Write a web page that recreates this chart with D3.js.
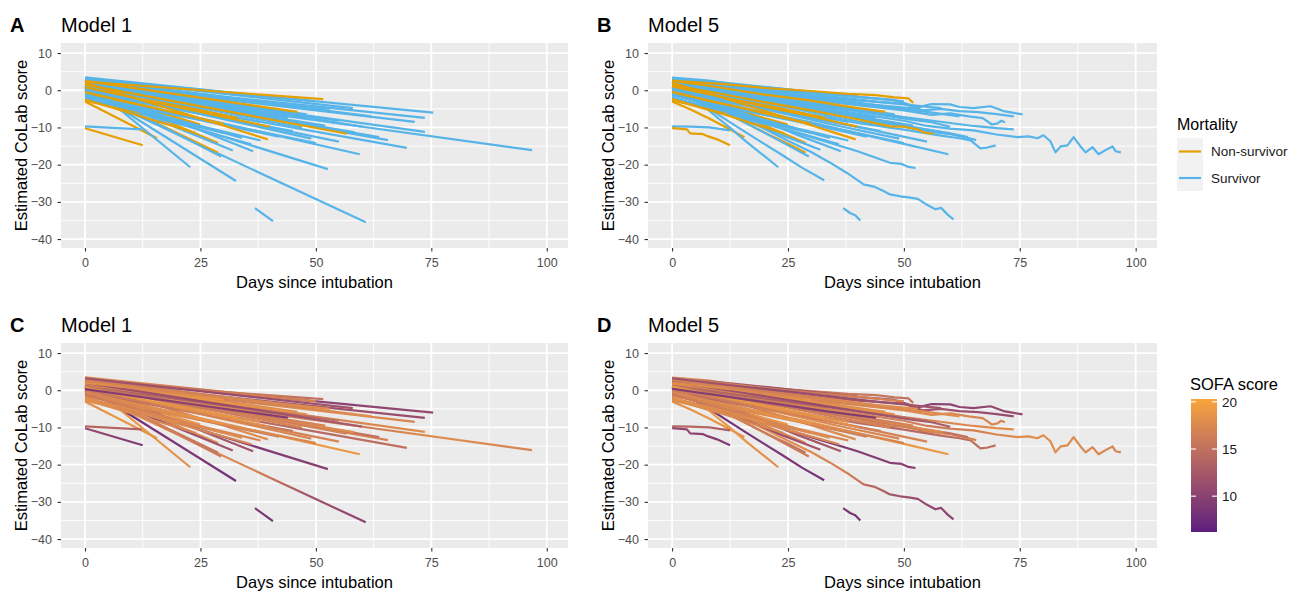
<!DOCTYPE html>
<html>
<head>
<meta charset="utf-8">
<script src="https://cdn.jsdelivr.net/npm/d3@7"></script>
<style>
  body { margin: 0; background: #fff; }
  svg { display: block; font-family: "Liberation Sans", Arial, sans-serif; }
</style>
</head>
<body>
<svg id="chart" width="1290" height="593"></svg>
<script>
// ---- data (one entry per patient, same order everywhere) ----
const mortality = [
  "Survivor", "Non-survivor", "Survivor", "Survivor", "Survivor", "Non-survivor", "Survivor",
  "Survivor", "Non-survivor", "Survivor", "Survivor", "Non-survivor", "Survivor", "Survivor",
  "Survivor", "Survivor", "Survivor", "Survivor", "Non-survivor", "Survivor", "Non-survivor",
  "Survivor", "Non-survivor", "Survivor", "Survivor", "Non-survivor", "Survivor", "Non-survivor",
  "Survivor", "Survivor", "Survivor", "Survivor", "Non-survivor", "Survivor", "Survivor",
  "Survivor", "Survivor", "Non-survivor", "Survivor", "Survivor", "Survivor", "Survivor",
  "Survivor", "Survivor", "Survivor", "Survivor", "Survivor", "Survivor", "Non-survivor",
  "Survivor", "Survivor", "Survivor", "Non-survivor", "Survivor", "Survivor", "Non-survivor",
  "Survivor", "Survivor", "Survivor", "Non-survivor", "Survivor"
];

// Model 1: straight fitted trajectories, [day, score] at first and last observation
const model1Start = [
  [0, 3.5], [0, 2.3], [0, 3.0], [0, 2.2], [0, 1.8], [0, 1.5], [0, 1.5],
  [0, 0.5], [0, -3.0], [0, 0.0], [0, -9.7], [0, -10.2], [0, 2.5], [0, 1.0],
  [0, -0.3], [36.8, -31.7], [0, -1.0], [0, -0.5], [0, 0.5], [0, 1.2], [0, 1.0],
  [0, 0.8], [0, 2.0], [0, 1.0], [0, 0.0], [0, 0.0], [0, 1.5], [0, 2.5],
  [0, 3.3], [0, 2.8], [0, 3.0], [0, 2.0], [0, -1.0], [0, 1.5], [0, 0.8],
  [0, 0.2], [0, -0.5], [0, 1.5], [0, -1.5], [0, -2.5], [0, -1.0], [0, 2.5],
  [0, -2.0], [0, 1.0], [0, 0.5], [0, 2.0], [0, -2.0], [0, 0.8], [0, -2.8],
  [0, -1.5], [0, 0.0], [0, -2.2], [0, -0.5], [0, 1.2], [0, 2.8], [0, 0.8],
  [0, -1.2], [0, 3.2], [0, 0.3], [0, -2.5], [0, 2.0]
];
const model1End = [
  [40, -1.7], [51.6, -2.4], [75.4, -6.0], [73.6, -7.4], [71.4, -8.5], [56.7, -11.7], [73.6, -11.2],
  [96.8, -16.1], [15.6, -12.9], [69.7, -15.5], [12.3, -10.5], [12.5, -14.8], [22.8, -20.7], [32.7, -24.4],
  [60.8, -35.5], [40.7, -35.2], [52.6, -21.2], [59.5, -17.2], [28.8, -16.8], [65.6, -13.4], [28.8, -14.2],
  [63.7, -12.6], [39.6, -13.2], [58.4, -11.3], [32, -16.2], [25, -9.2], [36.4, -16.4], [46, -5.8],
  [50, -3.0], [45, -4.2], [41, -3.5], [48, -6.5], [20, -6.5], [43, -7.0], [52, -9.5],
  [38, -8.5], [45, -11.0], [33, -7.5], [42, -12.5], [30, -11.5], [26, -10.0], [30, -2.5],
  [20, -8.5], [55, -8.2], [49, -13.0], [60, -9.8], [36, -14.5], [29.5, -17.8], [12, -6.0],
  [50, -14.2], [55, -13.8], [38, -13.5], [30, -9.0], [47, -10.0], [62, -7.0], [40, -9.8],
  [34, -12.8], [58, -4.8], [44, -7.4], [24, -11.5], [53, -5.0]
];

// Model 5: daily estimates, [day, score]
const model5Path = [
  [[0, 3.4], [8, 2.6], [15, 1.2], [22, 0.6], [30, -0.4], [35, -1.2], [40, -1.6]],
  [[0, 2.5], [10, 1.8], [20, 0.6], [30, -0.2], [38, -1.0], [44, -1.3], [48, -1.9], [51, -2.2], [52, -3.4]],
  [[0, 3.0], [10, 2.2], [20, 0.9], [30, -0.4], [40, -1.8], [48, -2.6], [53, -4.6], [56, -3.7], [60, -3.8], [62, -4.5], [65, -4.8], [68.7, -4.3], [71.5, -5.6], [75.6, -6.5]],
  [[0, 2.0], [10, 1.0], [20, 0.0], [30, -1.5], [40, -2.8], [50, -3.6], [54, -5.4], [58, -5.0], [62, -5.6], [66, -5.9], [70, -6.4], [73.7, -7.0]],
  [[0, 1.6], [10, 0.4], [20, -1.2], [30, -2.6], [40, -4.0], [50, -5.4], [56, -6.6], [60, -6.2], [64, -7.0], [67, -7.5], [69, -9.2], [70.2, -8.9], [71, -8.2], [71.8, -8.6]],
  [[0, 1.4], [10, -0.8], [20, -3.2], [30, -5.4], [40, -7.8], [47, -9.7], [50, -9.8], [52.9, -10.5], [54.5, -11.4], [56.4, -11.7]],
  [[0, 1.5], [10, -0.2], [20, -1.8], [30, -3.6], [40, -5.4], [50, -7.2], [55, -8.0], [60, -8.8], [65, -9.6], [70, -10.2], [73.7, -10.5]],
  [[0, 0.8], [10, -0.8], [20, -2.8], [30, -4.5], [40, -6.3], [50, -8.2], [55, -9.6], [60, -10.3], [65, -10.8], [70, -11.9], [74.5, -12.6], [76.9, -12.4], [78.8, -12.9], [80.1, -12.1], [81.6, -13.7], [82.7, -16.7], [83.8, -15.1], [85.3, -14.8], [86.6, -12.6], [88.1, -15.1], [89.2, -16.7], [90.7, -15.3], [92.0, -17.2], [93.5, -16.1], [95.0, -15.1], [95.7, -16.4], [96.8, -16.7]],
  [[0, -3.0], [4, -5.2], [8, -7.6], [12, -10.2], [15.6, -12.6]],
  [[0, 0.2], [10, -2.0], [20, -4.4], [30, -6.6], [40, -8.8], [50, -10.6], [58, -12.2], [62, -12.9], [64.4, -13.5], [66.5, -15.6], [68, -15.4], [69.8, -14.8]],
  [[0, -9.7], [4, -9.8], [8, -10.0], [12.5, -10.8]],
  [[0, -10.2], [3.2, -10.5], [3.9, -11.6], [6.7, -11.8], [7.8, -12.4], [9.7, -13.2], [12.5, -14.8]],
  [[0, 2.4], [5, -2.4], [10, -7.6], [12.6, -10.2], [16, -13.8], [20, -17.8], [22.9, -20.7]],
  [[0, 1.0], [8, -5.0], [16, -11.4], [24, -17.6], [28, -20.8], [32.8, -24.2]],
  [[0, 0.5], [5, -2.2], [10, -4.6], [15, -7.6], [20, -10.4], [25, -13.6], [30, -16.6], [34, -19.4], [37.8, -22.3], [41.3, -25.3], [43.5, -25.9], [45.6, -27.1], [47, -28.0], [49.2, -28.5], [51, -28.8], [53, -29.2], [55, -30.8], [56.8, -32.0], [58, -31.6], [59.5, -33.5], [60.7, -34.7]],
  [[36.9, -31.7], [38.4, -33.0], [39.5, -33.6], [40.6, -35.0]],
  [[0, -1.0], [10, -4.8], [20, -8.8], [30, -12.6], [40, -16.4], [47, -19.5], [49.5, -19.8], [51, -20.6], [52.5, -20.9]],
  [[0, -0.4], [10, -3.2], [20, -6.0], [30, -8.6], [40, -11.6], [50, -14.4], [59.6, -17.2]],
  [[0, 0.6], [7, -3.4], [14, -7.6], [21, -12.0], [25, -14.4], [28.8, -16.8]],
  [[0, 1.2], [10, -1.0], [20, -3.4], [30, -5.2], [40, -7.6], [50, -9.8], [56, -11.2], [60, -11.8], [63, -12.6], [65.6, -13.4]],
  [[0, 1.2], [7, -2.6], [14, -6.2], [21, -10.0], [28.8, -14.2]],
  [[0, 0.8], [10, -1.2], [20, -3.4], [30, -5.4], [40, -7.6], [50, -9.6], [57, -11.0], [60, -11.6], [63.8, -12.6]],
  [[0, 2.0], [10, -1.6], [20, -5.6], [30, -9.4], [35, -11.4], [39.6, -13.2]],
  [[0, 1.0], [10, -1.2], [20, -3.2], [30, -5.0], [40, -7.2], [50, -9.4], [58.4, -11.3]],
  [[0, 0.2], [8, -3.8], [16, -8.0], [24, -12.2], [32, -16.0]],
  [[0, 0.2], [6, -2.2], [12, -4.6], [18, -6.8], [25, -9.2]],
  [[0, 1.4], [9, -3.0], [18, -7.4], [27, -12.0], [36.4, -16.4]],
  [[0, 2.6], [10, 0.8], [20, -1.2], [30, -2.8], [38, -4.4], [46, -5.8]],
  [[0, 3.2], [10, 2.0], [20, 0.6], [30, -0.6], [40, -1.8], [50, -3.0]],
  [[0, 3.0], [12, 1.0], [24, -1.0], [35, -2.6], [45, -4.2]],
  [[0, 2.8], [10, 1.4], [20, -0.2], [30, -1.8], [41, -3.5]],
  [[0, 2.2], [12, 0.0], [24, -2.2], [36, -4.4], [48, -6.5]],
  [[0, -0.8], [5, -2.4], [10, -3.8], [15, -5.2], [20, -6.5]],
  [[0, 1.6], [10, -0.4], [20, -2.4], [30, -4.4], [43, -7.0]],
  [[0, 1.0], [13, -1.6], [26, -4.2], [39, -6.8], [52, -9.5]],
  [[0, 0.4], [10, -2.0], [20, -4.4], [30, -6.6], [38, -8.5]],
  [[0, -0.4], [11, -3.0], [22, -5.6], [33, -8.2], [45, -11.0]],
  [[0, 1.6], [8, -0.6], [16, -2.8], [24, -5.0], [33, -7.5]],
  [[0, -1.4], [10, -4.0], [20, -6.6], [30, -9.2], [42, -12.5]],
  [[0, -2.6], [8, -5.0], [16, -7.4], [24, -9.8], [30, -11.5]],
  [[0, -1.0], [7, -3.4], [14, -5.8], [20, -8.0], [26, -10.0]],
  [[0, 2.6], [8, 1.2], [16, 0.0], [24, -1.4], [30, -2.5]],
  [[0, -2.0], [5, -3.6], [10, -5.2], [15, -6.8], [20, -8.5]],
  [[0, 1.2], [14, -1.2], [28, -3.6], [42, -6.0], [55, -8.2]],
  [[0, 0.6], [12, -2.8], [24, -6.2], [36, -9.6], [49, -13.0]],
  [[0, 2.2], [15, -0.6], [30, -3.6], [45, -6.6], [52, -8.0], [56, -8.6], [60, -9.8]],
  [[0, -2.0], [9, -5.2], [18, -8.4], [27, -11.4], [36, -14.5]],
  [[0, 0.8], [7, -3.4], [14, -7.6], [22, -12.8], [29.5, -17.8]],
  [[0, -2.8], [4, -3.8], [8, -5.0], [12, -6.0]],
  [[0, -1.4], [12, -4.6], [25, -7.8], [38, -11.0], [50, -14.2]],
  [[0, 0.2], [14, -3.4], [28, -6.8], [42, -10.4], [55, -13.8]],
  [[0, -2.2], [10, -5.2], [20, -8.2], [30, -11.2], [38, -13.5]],
  [[0, -0.4], [8, -2.8], [16, -5.0], [24, -7.4], [30, -9.0]],
  [[0, 1.2], [12, -1.6], [24, -4.4], [36, -7.4], [47, -10.0]],
  [[0, 2.8], [15, 0.4], [30, -2.0], [45, -4.4], [55, -5.8], [62, -7.0]],
  [[0, 1.0], [10, -1.6], [20, -4.4], [30, -7.0], [40, -9.8]],
  [[0, -1.2], [9, -4.2], [18, -7.4], [27, -10.4], [34, -12.8]],
  [[0, 3.2], [15, 1.0], [30, -1.0], [45, -3.2], [58, -4.8]],
  [[0, 0.4], [11, -1.6], [22, -3.6], [33, -5.6], [44, -7.4]],
  [[0, -2.4], [6, -4.6], [12, -6.8], [18, -9.2], [24, -11.5]],
  [[0, 2.0], [13, 0.2], [26, -1.6], [39, -3.4], [53, -5.0]]
];

// SOFA score along each stay (first day ... last day)
const sofaScore = [
  [17, 18, 16, 17], [18, 17, 16, 15], [14, 12, 11, 10, 11], [15, 13, 12, 11], [17, 16, 18, 17], [17, 18, 17, 16], [18, 17, 16, 17, 18],
  [17, 18, 17, 16, 18, 17], [18, 19, 18], [16, 15, 14, 15], [14, 14, 13], [11, 10, 9], [19, 19, 18], [8, 8, 9, 8],
  [19, 18, 18, 17, 12, 10], [9, 8], [10, 9, 9, 10], [18, 18, 19, 19], [17, 16, 15], [17, 18, 17], [16, 17, 18],
  [17, 16, 15], [18, 17, 18], [16, 17, 18], [12, 11, 12], [18, 19], [14, 13, 12], [18, 17, 18],
  [17, 16, 17], [18, 17], [16, 18], [17, 19, 18], [18, 17], [18, 17], [16, 15, 17],
  [17, 18], [13, 15, 14], [18, 19], [17, 16], [18, 17], [16, 18], [17, 19],
  [18, 19], [14, 13, 15], [17, 18, 17], [12, 11, 13], [18, 17], [17, 16], [18, 17],
  [17, 18, 17], [16, 17], [18, 17], [17, 19], [15, 16, 17], [17, 16, 18], [19, 18],
  [16, 18], [12, 11, 12], [9, 10, 9], [18, 17], [18, 17, 18]
];

const xTicks = [0, 25, 50, 75, 100];
const xMinor = [12.5, 37.5, 62.5, 87.5];
const yTicks = [-40, -30, -20, -10, 0, 10];
const yMinor = [-35, -25, -15, -5, 5];
const mortalityLevels = ["Non-survivor", "Survivor"];
const mortalityColors = ["#E69F00", "#56B4E9"];
const sofaTicks = [10, 15, 20];

// ---- layout ----
const svg = d3.select("#chart");
const defs = svg.append("defs");

const panels = [
  { tag: "A", title: "Model 1", model: 1, colour: "mortality", left: 61, top: 43, width: 507 },
  { tag: "B", title: "Model 5", model: 5, colour: "mortality", left: 648, top: 43, width: 509 },
  { tag: "C", title: "Model 1", model: 1, colour: "sofa", left: 61, top: 343, width: 507 },
  { tag: "D", title: "Model 5", model: 5, colour: "sofa", left: 648, top: 343, width: 509 }
];
const panelHeight = 205;

const mortalityScale = d3.scaleOrdinal(mortalityLevels, mortalityColors);
const sofaScale = d3.scaleLinear([6.2, 20.3], ["#5c1f7d", "#f8a53a"]).interpolate(d3.interpolateLab);

const line = d3.line();

// long non-survivor stays go on top so they stay visible in the mortality panels
const stay = i => model1End[i][0] - model1Start[i][0];
const onTop = i => mortality[i] === "Non-survivor" && stay(i) >= 39;
const drawOrder = d3.range(mortality.length)
  .sort((a, b) => (onTop(a) ? 1 : 0) - (onTop(b) ? 1 : 0) || a - b);

panels.forEach((p, pi) => {
  const x = d3.scaleLinear([-5.2, 104.6], [p.left, p.left + p.width]);
  const y = d3.scaleLinear([-42.4, 12.7], [p.top + panelHeight, p.top]);
  const g = svg.append("g");

  // background + grid
  g.append("rect")
    .attr("x", p.left).attr("y", p.top)
    .attr("width", p.width).attr("height", panelHeight)
    .attr("fill", "#EBEBEB");

  g.selectAll(".xminor").data(xMinor).enter().append("line")
    .attr("x1", d => x(d)).attr("x2", d => x(d))
    .attr("y1", p.top).attr("y2", p.top + panelHeight)
    .attr("stroke", "#fff").attr("stroke-width", 0.9);
  g.selectAll(".yminor").data(yMinor).enter().append("line")
    .attr("y1", d => y(d)).attr("y2", d => y(d))
    .attr("x1", p.left).attr("x2", p.left + p.width)
    .attr("stroke", "#fff").attr("stroke-width", 0.9);
  g.selectAll(".xmajor").data(xTicks).enter().append("line")
    .attr("x1", d => x(d)).attr("x2", d => x(d))
    .attr("y1", p.top).attr("y2", p.top + panelHeight)
    .attr("stroke", "#fff").attr("stroke-width", 1.8);
  g.selectAll(".ymajor").data(yTicks).enter().append("line")
    .attr("y1", d => y(d)).attr("y2", d => y(d))
    .attr("x1", p.left).attr("x2", p.left + p.width)
    .attr("stroke", "#fff").attr("stroke-width", 1.8);

  // trajectories
  const lines = g.append("g")
    .attr("fill", "none")
    .attr("stroke-width", 2.2)
    .attr("stroke-linejoin", "round");

  const order = p.colour === "mortality" ? drawOrder : d3.range(mortality.length);
  order.forEach(i => {
    const m = mortality[i];
    const pts = p.model === 1 ? [model1Start[i], model1End[i]] : model5Path[i];
    const d = line(pts.map(q => [x(q[0]), y(q[1])]));
    let stroke;
    if (p.colour === "mortality") {
      stroke = mortalityScale(m);
    } else {
      const gid = `sofa-${pi}-${i}`;
      const s = sofaScore[i];
      const grad = defs.append("linearGradient")
        .attr("id", gid)
        .attr("gradientUnits", "userSpaceOnUse")
        .attr("x1", x(pts[0][0])).attr("x2", x(pts[pts.length - 1][0]))
        .attr("y1", 0).attr("y2", 0);
      s.forEach((v, k) => {
        grad.append("stop")
          .attr("offset", k / (s.length - 1))
          .attr("stop-color", sofaScale(v));
      });
      stroke = `url(#${gid})`;
    }
    lines.append("path").attr("d", d).attr("stroke", stroke);
  });

  // axes
  const xAxis = g.append("g")
    .attr("transform", `translate(0,${p.top + panelHeight})`)
    .call(d3.axisBottom(x).tickValues(xTicks).tickSize(3.5).tickPadding(6.5));
  const yAxis = g.append("g")
    .attr("transform", `translate(${p.left},0)`)
    .call(d3.axisLeft(y).tickValues(yTicks).tickSize(3.5).tickPadding(5.5));
  [xAxis, yAxis].forEach(a => {
    a.select(".domain").remove();
    a.selectAll(".tick line").attr("stroke", "#333").attr("stroke-width", 1.1);
    a.selectAll(".tick text")
      .attr("fill", "#4D4D4D")
      .style("font-size", "12.5px")
      .style("font-family", "'Liberation Sans', Arial, sans-serif");
  });

  // axis titles
  g.append("text")
    .attr("x", p.left + p.width / 2).attr("y", p.top + 245)
    .attr("text-anchor", "middle")
    .style("font-size", "16.5px")
    .attr("fill", "#000")
    .text("Days since intubation");
  g.append("text")
    .attr("transform", `translate(${p.left - 34},${p.top + panelHeight / 2}) rotate(-90)`)
    .attr("text-anchor", "middle")
    .style("font-size", "16.5px")
    .attr("fill", "#000")
    .text("Estimated CoLab score");

  // panel tag + title
  g.append("text")
    .attr("x", p.left - 51).attr("y", p.top - 11)
    .style("font-size", "20px").style("font-weight", "bold")
    .text(p.tag);
  g.append("text")
    .attr("x", p.left).attr("y", p.top - 11)
    .style("font-size", "20px")
    .text(p.title);
});

// ---- mortality legend ----
const legend = svg.append("g").attr("transform", "translate(1177,0)");
legend.append("text")
  .attr("x", 0).attr("y", 130)
  .style("font-size", "16px")
  .text("Mortality");
mortalityLevels.forEach((lvl, i) => {
  const top = 138 + i * 26.5;
  legend.append("rect")
    .attr("x", 0).attr("y", top)
    .attr("width", 26).attr("height", 26.5)
    .attr("fill", "#F2F2F2");
  legend.append("line")
    .attr("x1", 2).attr("x2", 24)
    .attr("y1", top + 13.5).attr("y2", top + 13.5)
    .attr("stroke", mortalityScale(lvl)).attr("stroke-width", 2.2);
  legend.append("text")
    .attr("x", 34).attr("y", top + 13.5)
    .attr("dy", "0.35em")
    .style("font-size", "13.5px")
    .attr("fill", "#1a1a1a")
    .text(lvl);
});

// ---- SOFA colour bar ----
const barY = d3.scaleLinear(sofaScale.domain(), [532, 399]);
const barGrad = defs.append("linearGradient")
  .attr("id", "sofa-bar")
  .attr("x1", 0).attr("x2", 0).attr("y1", 1).attr("y2", 0);
[6.2, 8, 10, 12, 14, 16, 18, 20.3].forEach(v => {
  barGrad.append("stop")
    .attr("offset", (v - 6.2) / (20.3 - 6.2))
    .attr("stop-color", sofaScale(v));
});
const bar = svg.append("g");
bar.append("text")
  .attr("x", 1190).attr("y", 390)
  .style("font-size", "16.5px")
  .text("SOFA score");
bar.append("rect")
  .attr("x", 1191).attr("y", 399)
  .attr("width", 26).attr("height", 133)
  .attr("fill", "url(#sofa-bar)");
sofaTicks.forEach(t => {
  bar.append("line")
    .attr("x1", 1191).attr("x2", 1196)
    .attr("y1", barY(t)).attr("y2", barY(t))
    .attr("stroke", "#fff").attr("stroke-width", 1.1);
  bar.append("line")
    .attr("x1", 1212).attr("x2", 1217)
    .attr("y1", barY(t)).attr("y2", barY(t))
    .attr("stroke", "#fff").attr("stroke-width", 1.1);
  bar.append("text")
    .attr("x", 1222).attr("y", barY(t))
    .attr("dy", "0.35em")
    .style("font-size", "13.5px")
    .attr("fill", "#1a1a1a")
    .text(t);
});
</script>
</body>
</html>
